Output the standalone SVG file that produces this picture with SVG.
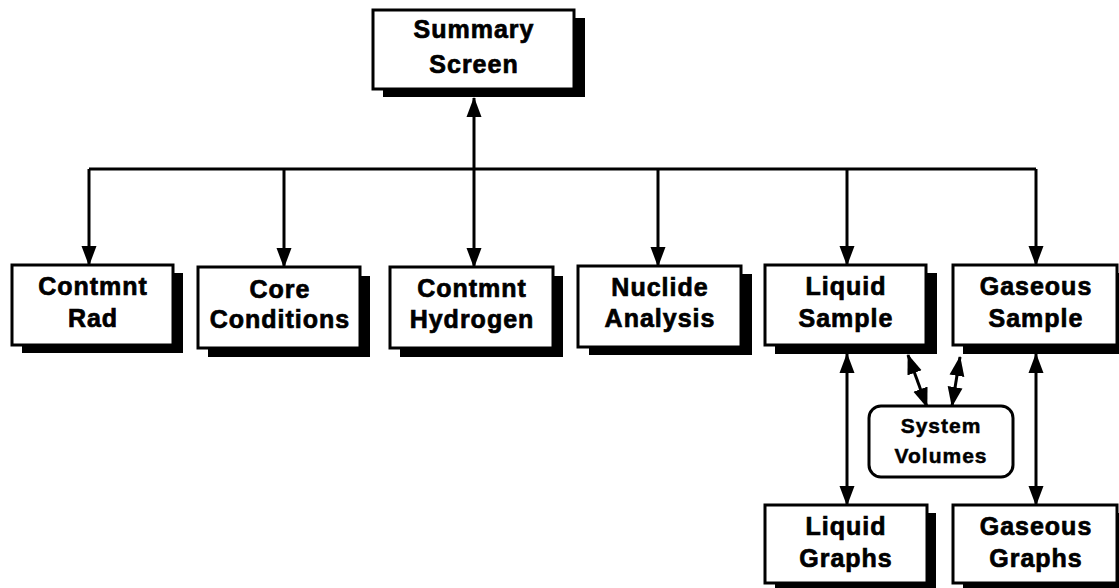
<svg xmlns="http://www.w3.org/2000/svg" width="1119" height="588" viewBox="0 0 1119 588">
<defs>
<style>
.box{fill:#fff;stroke:#000;stroke-width:3}
.shadow{fill:#000}
.lbl{font-family:"Liberation Sans",Arial,sans-serif;font-weight:bold;font-size:25px;letter-spacing:1px;text-anchor:middle;fill:#000;stroke:#000;stroke-width:0.7px}
.sm{font-size:21px;letter-spacing:1px;stroke-width:0.5px}
.ln{fill:none;stroke:#000;stroke-width:3}
.ar{marker-end:url(#ah)}
.dar{marker-start:url(#ah);marker-end:url(#ah)}
</style>
<marker id="ah" markerUnits="userSpaceOnUse" markerWidth="20" markerHeight="16" viewBox="0 0 20 16" refX="19" refY="8" orient="auto-start-reverse">
<path d="M0,0.5 L20,8 L0,15.5 Z" fill="#000"/>
</marker>
</defs>
<rect width="1119" height="588" fill="#fff"/>

<g id="connectors">
<path class="ln" d="M89,169 H1036"/>
<path class="ln ar" d="M89,169 V265"/>
<path class="ln ar" d="M284,169 V267"/>
<path class="ln dar" d="M474,98 V267"/>
<path class="ln ar" d="M658,169 V266"/>
<path class="ln ar" d="M847,169 V265"/>
<path class="ln ar" d="M1036,169 V265"/>
<path class="ln dar" d="M847,354 V505"/>
<path class="ln dar" d="M1036,354 V505"/>
<path class="ln dar" d="M908,355 L927,407"/>
<path class="ln dar" d="M960,357 L952,406"/>
</g>

<g id="summary-screen">
<rect class="shadow" x="383" y="18" width="202" height="79"/>
<rect class="box" x="373" y="10" width="201" height="79"/>
<text class="lbl" x="474" y="38">Summary</text>
<text class="lbl" x="474" y="73">Screen</text>
</g>

<g id="contmnt-rad">
<rect class="shadow" x="22" y="273" width="161" height="80"/>
<rect class="box" x="12" y="265" width="161" height="80"/>
<text class="lbl" x="93" y="295">Contmnt</text>
<text class="lbl" x="93" y="327">Rad</text>
</g>

<g id="core-conditions">
<rect class="shadow" x="208" y="276" width="162" height="81"/>
<rect class="box" x="198" y="267" width="162" height="81"/>
<text class="lbl" x="280" y="298">Core</text>
<text class="lbl" x="280" y="328">Conditions</text>
</g>

<g id="contmnt-hydrogen">
<rect class="shadow" x="400" y="276" width="163" height="81"/>
<rect class="box" x="390" y="267" width="163" height="81"/>
<text class="lbl" x="472" y="297">Contmnt</text>
<text class="lbl" x="472" y="328">Hydrogen</text>
</g>

<g id="nuclide-analysis">
<rect class="shadow" x="589" y="274" width="163" height="81"/>
<rect class="box" x="578" y="266" width="163" height="81"/>
<text class="lbl" x="660" y="296">Nuclide</text>
<text class="lbl" x="660" y="327">Analysis</text>
</g>

<g id="liquid-sample">
<rect class="shadow" x="775" y="273" width="162" height="81"/>
<rect class="box" x="765" y="265" width="161" height="80"/>
<text class="lbl" x="846" y="295">Liquid</text>
<text class="lbl" x="846" y="327">Sample</text>
</g>

<g id="gaseous-sample">
<rect class="shadow" x="963" y="273" width="164" height="81"/>
<rect class="box" x="953" y="265" width="164" height="80"/>
<text class="lbl" x="1036" y="295">Gaseous</text>
<text class="lbl" x="1036" y="327">Sample</text>
</g>

<g id="system-volumes">
<rect class="box" x="869" y="406" width="144" height="71" rx="12" ry="12"/>
<text class="lbl sm" x="941" y="433">System</text>
<text class="lbl sm" x="941" y="463">Volumes</text>
</g>

<g id="liquid-graphs">
<rect class="shadow" x="775" y="513" width="161" height="78"/>
<rect class="box" x="765" y="505" width="162" height="78"/>
<text class="lbl" x="846" y="535">Liquid</text>
<text class="lbl" x="846" y="567">Graphs</text>
</g>

<g id="gaseous-graphs">
<rect class="shadow" x="963" y="513" width="164" height="78"/>
<rect class="box" x="953" y="505" width="164" height="78"/>
<text class="lbl" x="1036" y="535">Gaseous</text>
<text class="lbl" x="1036" y="567">Graphs</text>
</g>
</svg>
